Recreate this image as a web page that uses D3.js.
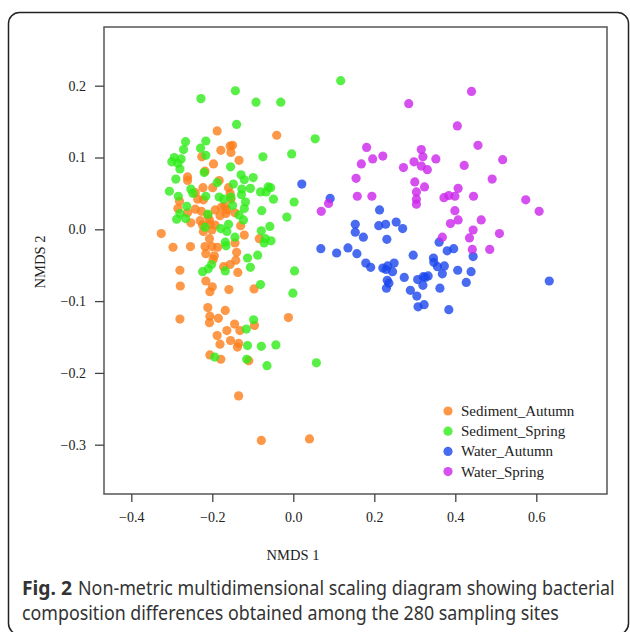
<!DOCTYPE html>
<html>
<head>
<meta charset="utf-8">
<script src="https://cdn.jsdelivr.net/npm/d3@7"></script>
<style>
  body { margin: 0; background: #fff; }
  svg text { font-family: "Liberation Serif", "DejaVu Serif", serif; fill: #222; }
  svg text.cap { font-family: "Noto Sans", "Open Sans", sans-serif; fill: #333; }
</style>
</head>
<body>
<svg id="chart" width="630" height="632"></svg>
<script>
// NMDS scores, one pair of arrays per group
var sedAutumnX = [-0.188,-0.041,-0.156,-0.150,-0.179,-0.154,-0.226,-0.134,-0.197,-0.218,-0.261,-0.261,-0.183,-0.223,-0.199,-0.160,-0.156,-0.242,-0.236,-0.222,-0.154,-0.281,-0.285,-0.242,-0.227,-0.193,-0.177,-0.169,-0.164,-0.181,-0.166,-0.144,-0.261,-0.253,-0.230,-0.207,-0.206,-0.193,-0.224,-0.211,-0.130,-0.222,-0.201,-0.326,-0.121,-0.207,-0.084,-0.297,-0.254,-0.218,-0.201,-0.144,-0.187,
  -0.216,-0.140,-0.195,-0.198,-0.142,-0.156,-0.172,-0.137,-0.280,-0.216,-0.200,-0.206,-0.279,-0.159,-0.097,-0.211,-0.168,-0.206,-0.185,-0.207,-0.280,-0.012,-0.145,-0.096,-0.164,-0.132,-0.188,-0.155,-0.135,-0.138,-0.181,-0.206,-0.179,-0.110,-0.135,-0.079,0.040];
var sedAutumnY = [0.137,0.131,0.116,0.117,0.110,0.107,0.101,0.096,0.091,0.081,0.073,0.068,0.068,0.058,0.058,0.058,0.050,0.051,0.042,0.041,0.042,0.039,0.029,0.028,0.025,0.027,0.031,0.032,0.027,0.019,0.022,0.023,0.023,0.009,0.012,0.013,0.007,0.006,0.006,0.019,0.005,-0.003,-0.001,-0.006,-0.008,-0.013,-0.013,-0.025,-0.024,-0.024,-0.024,-0.019,-0.025,
  -0.034,-0.032,-0.037,-0.042,-0.043,-0.049,-0.052,-0.060,-0.057,-0.072,-0.080,-0.087,-0.079,-0.084,-0.083,-0.109,-0.113,-0.121,-0.124,-0.130,-0.125,-0.123,-0.132,-0.134,-0.141,-0.141,-0.148,-0.155,-0.159,-0.164,-0.160,-0.175,-0.181,-0.183,-0.232,-0.294,-0.292];

var sedSpringX = [-0.140,-0.266,-0.216,-0.271,-0.229,-0.216,-0.294,-0.300,-0.277,-0.285,-0.280,-0.155,-0.220,-0.075,-0.004,0.054,-0.290,-0.129,-0.121,-0.099,-0.188,-0.148,-0.306,-0.253,-0.248,-0.284,-0.216,-0.183,-0.172,-0.154,-0.127,-0.128,-0.106,-0.081,-0.067,-0.062,-0.056,-0.049,0.002,-0.118,-0.150,-0.121,-0.078,-0.263,-0.280,-0.288,-0.266,-0.211,-0.134,-0.123,-0.016,-0.160,-0.218,-0.179,-0.164,-0.144,-0.079,-0.058,-0.069,-0.072,-0.055,-0.168,-0.166,
  -0.113,-0.088,-0.106,-0.202,-0.210,-0.224,-0.168,0.003,-0.081,-0.001,-0.098,-0.116,-0.113,-0.079,-0.043,-0.194,-0.115,-0.065,0.057,
  -0.228,-0.143,-0.092,-0.031,0.117];
var sedSpringY = [0.146,0.122,0.123,0.111,0.113,0.103,0.100,0.094,0.098,0.092,0.084,0.087,0.079,0.101,0.105,0.126,0.070,0.076,0.069,0.072,0.065,0.063,0.053,0.056,0.050,0.046,0.046,0.045,0.042,0.045,0.056,0.048,0.057,0.052,0.052,0.059,0.058,0.042,0.038,0.038,0.033,0.029,0.026,0.032,0.022,0.014,0.015,0.021,0.020,0.013,0.017,0.007,0.003,0.001,-0.003,-0.011,-0.002,0.004,-0.013,-0.019,-0.016,-0.018,-0.023,
  -0.040,-0.036,-0.053,-0.049,-0.055,-0.059,-0.058,-0.058,-0.077,-0.089,-0.126,-0.139,-0.162,-0.163,-0.161,-0.178,-0.181,-0.190,-0.186,
  0.182,0.193,0.177,0.177,0.207];

var watAutumnX = [0.021,0.091,0.213,0.153,0.153,0.211,0.228,0.254,0.270,0.173,0.231,0.068,0.107,0.135,0.157,0.360,0.380,0.396,0.444,0.296,0.346,0.347,0.179,0.191,0.249,0.233,0.229,0.221,0.245,0.356,0.373,0.368,0.406,0.439,0.274,0.307,0.321,0.333,0.326,0.232,0.236,0.230,0.320,0.362,0.427,0.632,0.289,0.305,0.308,0.323,0.384];
var watAutumnY = [0.063,0.043,0.027,0.007,-0.004,0.005,0.007,0.010,0.001,-0.011,-0.014,-0.027,-0.033,-0.026,-0.034,-0.018,-0.030,-0.027,-0.038,-0.036,-0.040,-0.046,-0.047,-0.053,-0.047,-0.051,-0.056,-0.054,-0.059,-0.052,-0.051,-0.062,-0.057,-0.059,-0.067,-0.070,-0.066,-0.065,-0.067,-0.071,-0.075,-0.082,-0.078,-0.082,-0.074,-0.072,-0.085,-0.093,-0.108,-0.105,-0.112];

var watSpringX = [0.285,0.440,0.405,0.456,0.181,0.196,0.221,0.168,0.316,0.320,0.352,0.298,0.272,0.316,0.331,0.422,0.517,0.155,0.491,0.300,0.324,0.407,0.304,0.158,0.194,0.372,0.384,0.399,0.445,0.574,0.304,0.304,0.087,0.069,0.607,0.399,0.407,0.388,0.464,0.444,0.509,0.368,0.435,0.442,0.485];
var watSpringY = [0.175,0.192,0.144,0.117,0.114,0.098,0.102,0.091,0.111,0.101,0.098,0.094,0.086,0.088,0.083,0.089,0.097,0.071,0.070,0.066,0.059,0.057,0.052,0.046,0.046,0.044,0.047,0.046,0.046,0.041,0.042,0.035,0.036,0.025,0.025,0.026,0.013,0.008,0.013,-0.001,-0.006,-0.011,-0.012,-0.028,-0.028];

var groupNames = ["Sediment_Autumn", "Sediment_Spring", "Water_Autumn", "Water_Spring"];
var groupColors = ["#fb7e1a", "#2eec18", "#1a46ec", "#cc24ec"];
var groupX = [sedAutumnX, sedSpringX, watAutumnX, watSpringX];
var groupY = [sedAutumnY, sedSpringY, watAutumnY, watSpringY];
var xTicks = [-0.4, -0.2, 0.0, 0.2, 0.4, 0.6];
var yTicks = [-0.3, -0.2, -0.1, 0.0, 0.1, 0.2];

var svg = d3.select("#chart");
var box = {left: 104, top: 27, right: 607, bottom: 494};

var x = d3.scaleLinear().domain([-0.4, 0.6]).range([131.3, 536.3]);
var y = d3.scaleLinear().domain([-0.3, 0.2]).range([444.7, 85.7]);

// outer figure frame
svg.append("rect")
	.attr("x", 8.5).attr("y", 12.5)
	.attr("width", 620).attr("height", 622)
	.attr("rx", 11)
	.attr("fill", "none").attr("stroke", "#222").attr("stroke-width", 1.5);

// plot box
svg.append("rect")
	.attr("x", box.left).attr("y", box.top)
	.attr("width", box.right - box.left).attr("height", box.bottom - box.top)
	.attr("fill", "none").attr("stroke", "#555").attr("stroke-width", 1.5);

// points, group by group
var pts = [];
groupX.forEach(function(xs, g){
	xs.forEach(function(v, i){ pts.push({g: g, x: v, y: groupY[g][i]}); });
});
svg.append("g").selectAll("circle").data(pts).enter().append("circle")
	.attr("cx", function(d){ return x(d.x); })
	.attr("cy", function(d){ return y(d.y); })
	.attr("r", 4.6)
	.attr("fill", function(d){ return groupColors[d.g]; })
	.attr("fill-opacity", 0.8);

// axes
var fmt = function(d){ return d3.format(".1f")(d).replace("-", "\u2212"); };
var gx = svg.append("g").attr("transform", "translate(0," + box.bottom + ")")
	.call(d3.axisBottom(x).tickValues(xTicks).tickSize(8).tickPadding(10).tickFormat(fmt));
var gy = svg.append("g").attr("transform", "translate(" + box.left + ",0)")
	.call(d3.axisLeft(y).tickValues(yTicks).tickSize(9).tickPadding(9).tickFormat(fmt));
[gx, gy].forEach(function(g){
	g.select(".domain").remove();
	g.selectAll(".tick line").attr("stroke", "#444").attr("stroke-width", 1.3);
	g.selectAll(".tick text").attr("font-size", 14).attr("font-family", "Liberation Serif").attr("fill", "#222");
});

// axis titles
svg.append("text").attr("x", 293).attr("y", 560).attr("text-anchor", "middle")
	.attr("font-size", 14.5).text("NMDS 1");
svg.append("text").attr("transform", "translate(45,262) rotate(-90)").attr("text-anchor", "middle")
	.attr("font-size", 14.5).text("NMDS 2");

// legend
var leg = svg.append("g").selectAll("g").data(groupNames).enter().append("g")
	.attr("transform", function(d, i){ return "translate(448," + (411 + i * 20.2) + ")"; });
leg.append("circle").attr("r", 4.6)
	.attr("fill", function(d, i){ return groupColors[i]; }).attr("fill-opacity", 0.8);
leg.append("text").attr("x", 13).attr("y", 5).attr("font-size", 15).text(function(d){ return d; });

// caption: condensed by horizontal scaling to the reference widths
function capLine(x0, y0, w, txt, bold){
	var t = svg.append("text").attr("class", "cap").attr("font-size", 20)
		.attr("font-weight", bold ? "bold" : "normal").text(txt);
	var sx = w / t.node().getComputedTextLength();
	t.attr("transform", "translate(" + x0 + "," + y0 + ") scale(" + sx + ",1)");
}
capLine(22, 595, 50, "Fig. 2", true);
capLine(78, 595, 537, "Non-metric multidimensional scaling diagram showing bacterial", false);
capLine(22, 620, 537, "composition differences obtained among the 280 sampling sites", false);
</script>
</body>
</html>
